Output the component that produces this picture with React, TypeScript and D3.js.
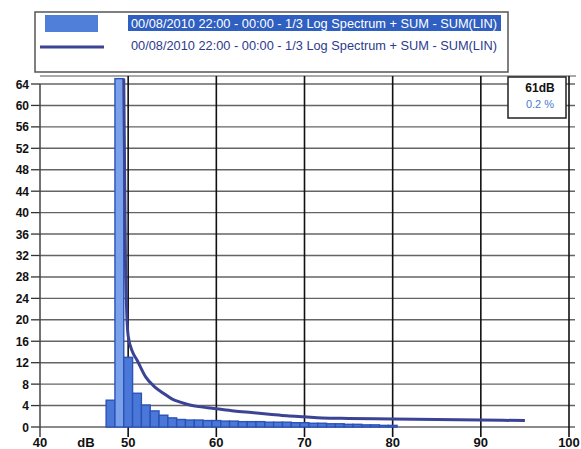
import React from "react";
import * as d3 from "d3";

const xTicks = [40, 50, 60, 70, 80, 90, 100];
const yTicks = [0, 4, 8, 12, 16, 20, 24, 28, 32, 36, 40, 44, 48, 52, 56, 60, 64];

const histDb = [48, 49, 50, 51, 52, 53, 54, 55, 56, 57, 58, 59, 60, 61, 62, 63, 64, 65, 66, 67, 68, 69, 70, 71, 72, 73, 74, 75, 76, 77, 78, 79, 80];
const histPct = [5, 65, 13, 6.3, 4.1, 3.0, 2.2, 1.7, 1.4, 1.3, 1.3, 1.2, 1.2, 1.1, 1.1, 1.0, 1.0, 1.0, 0.9, 0.9, 0.9, 0.8, 0.8, 0.7, 0.7, 0.6, 0.6, 0.5, 0.5, 0.4, 0.4, 0.3, 0.3];

const lineDb = [49.5, 49.7, 50, 50.5, 51, 52, 53, 54, 55, 56, 57, 58, 59, 60, 62, 64, 66, 68, 70, 72, 75, 80, 85, 90, 95];
const linePct = [65, 30, 17, 14, 12.5, 9.3, 7.5, 6.3, 5.2, 4.6, 4.1, 3.8, 3.6, 3.4, 3.0, 2.7, 2.4, 2.1, 1.9, 1.7, 1.6, 1.5, 1.4, 1.3, 1.2];

const legendLabels = [
  "00/08/2010 22:00 - 00:00 - 1/3 Log Spectrum + SUM - SUM(LIN)",
  "00/08/2010 22:00 - 00:00 - 1/3 Log Spectrum + SUM - SUM(LIN)",
];
const cursorLabels = ["61dB", "0.2 %"];

export default function App() {
  const W = 581, H = 449;
  const x = d3.scaleLinear().domain([40, 100]).range([40, 569]);
  const y = d3.scaleLinear().domain([0, 64]).range([427, 84]);
  const font = "'Liberation Sans', Arial, sans-serif";

  const line = d3
    .line<number>()
    .x((_, i) => x(lineDb[i]))
    .y((_, i) => y(linePct[i]))
    .curve(d3.curveMonotoneX);

  return (
    <svg
      width={W}
      height={H}
      style={{ position: "absolute", left: 0, top: 0, background: "#fff" }}
      fontFamily={font}
    >
      {/* legend */}
      <rect x={35} y={12} width={473} height={60} fill="none" stroke="#555" strokeWidth={1.5} />
      <rect x={45} y={15} width={53} height={17} fill="#4f7fd8" />
      <rect x={128} y={15} width={373} height={16} fill="#2f5fc0" />
      <text x={131} y={27.5} fontSize={12.5} fill="#fff" textLength={366} lengthAdjust="spacingAndGlyphs">
        {legendLabels[0]}
      </text>
      <line x1={40} x2={104} y1={47} y2={47} stroke="#3b4494" strokeWidth={3} />
      <text x={131} y={49.5} fontSize={12.5} fill="#2c3a8c" textLength={366} lengthAdjust="spacingAndGlyphs">
        {legendLabels[1]}
      </text>

      {/* plot frame top */}
      <line x1={40} x2={576} y1={76} y2={76} stroke="#555" strokeWidth={1.2} />

      {/* horizontal grid */}
      {yTicks.map((t) => (
        <g key={"y" + t}>
          <line x1={40} x2={575} y1={y(t)} y2={y(t)} stroke="#4a4a4a" strokeWidth={1.4} opacity={0.85} />
          <line x1={31} x2={40} y1={y(t)} y2={y(t)} stroke="#333" strokeWidth={1.3} />
          <text
            x={29}
            y={y(t) + 4.5}
            fontSize={12}
            fontWeight="bold"
            textAnchor="end"
            fill="#111"
          >
            {t}
          </text>
        </g>
      ))}

      {/* vertical grid */}
      {xTicks.map((t) => (
        <g key={"x" + t}>
          <line
            x1={x(t)}
            x2={x(t)}
            y1={t === 40 ? 84 : 76}
            y2={437}
            stroke={t === 40 ? "#444" : "#111"}
            strokeWidth={t === 40 ? 1.5 : 1.6}
          />
          <text x={x(t)} y={447} fontSize={13} fontWeight="bold" textAnchor="middle" fill="#111">
            {t}
          </text>
        </g>
      ))}
      <text x={86} y={447} fontSize={13} fontWeight="bold" textAnchor="middle" fill="#111">
        dB
      </text>

      {/* histogram */}
      {histDb.map((d, i) => (
        <rect
          key={"h" + d}
          x={x(d - 0.5)}
          y={y(histPct[i])}
          width={x(d + 0.5) - x(d - 0.5)}
          height={y(0) - y(histPct[i])}
          fill={histPct[i] > 30 ? "#79a2ea" : "#4a78d8"}
          stroke="#2d52b8"
          strokeWidth={1.4}
        />
      ))}

      {/* curve */}
      <path d={line(linePct) || ""} fill="none" stroke="#3b4494" strokeWidth={3} />

      {/* cursor box */}
      <rect x={508} y={77} width={58} height={41} fill="#fff" stroke="#222" strokeWidth={1.5} />
      <text x={540} y={92} fontSize={12} fontWeight="bold" textAnchor="middle" fill="#111">
        {cursorLabels[0]}
      </text>
      <text x={540} y={108} fontSize={11} textAnchor="middle" fill="#4a7ad0">
        {cursorLabels[1]}
      </text>
    </svg>
  );
}
